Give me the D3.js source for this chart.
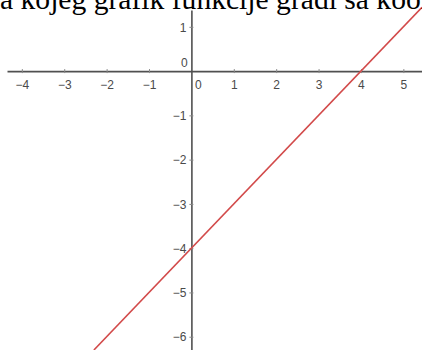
<!DOCTYPE html>
<html><head><meta charset="utf-8">
<script src="https://cdn.jsdelivr.net/npm/d3@7"></script>
<style>
html,body{margin:0;padding:0;background:#fff;overflow:hidden}
svg{display:block}
</style></head>
<body>
<script>
const headingText = "a kojeg grafik funkcije gradi sa koordinatnim osama";
const xTicks = [-4, -3, -2, -1, 1, 2, 3, 4, 5];
const yTicks = [1, -1, -2, -3, -4, -5, -6];
const xDomain = [-4.35, 5.44];
const yDomain = [1.38, -6.3];
const slope = 1, intercept = -4;   // y = x - 4

const W = 422, H = 350;
const svg = d3.select("body").append("svg").attr("width", W).attr("height", H);

const x = d3.scaleLinear().domain(xDomain).range([7, 422]);
const y = d3.scaleLinear().domain(yDomain).range([10, 350]);

const axisCol = "#505050", labelCol = "#4a4a4a";
const labFont = "12px 'Liberation Sans', Arial, sans-serif";
const fmt = d => d < 0 ? "\u2212" + Math.abs(d) : String(d);

// x axis
const gx = svg.append("g").attr("transform", `translate(0,${y(0)})`)
  .call(d3.axisBottom(x).tickValues(xTicks).tickSizeInner(2).tickSizeOuter(0).tickFormat(fmt));
gx.select(".domain").attr("stroke", axisCol).attr("stroke-width", 1.6);
gx.selectAll(".tick line").attr("y1", -2).attr("y2", 2).attr("stroke", "#888");
gx.selectAll(".tick text").attr("y", 18).attr("dy", 0)
  .attr("fill", labelCol).style("font", labFont);

// y axis
const gy = svg.append("g").attr("transform", `translate(${x(0)},0)`)
  .call(d3.axisLeft(y).tickValues(yTicks).tickSizeInner(2).tickSizeOuter(0).tickFormat(fmt));
gy.select(".domain").attr("stroke", axisCol).attr("stroke-width", 1.6);
gy.selectAll(".tick line").attr("x1", -2).attr("x2", 2).attr("stroke", "#888");
gy.selectAll(".tick text").attr("x", -5).attr("dy", "0.35em")
  .attr("fill", labelCol).style("font", labFont);

// zero labels
svg.append("text").attr("x", x(0) - 7).attr("y", y(0) - 4).attr("text-anchor", "middle")
  .attr("fill", labelCol).style("font", labFont).text("0");
svg.append("text").attr("x", x(0) + 7).attr("y", y(0) + 18).attr("text-anchor", "middle")
  .attr("fill", labelCol).style("font", labFont).text("0");

// function line
const f = v => slope * v + intercept;
const xs = [(yDomain[1] - intercept) / slope, xDomain[1]];
svg.append("path")
  .datum(xs.map(v => [v, f(v)]))
  .attr("d", d3.line().x(d => x(d[0])).y(d => y(d[1])))
  .attr("fill", "none").attr("stroke", "#d24a4a").attr("stroke-width", 1.6);

// heading text (clipped at top, as in the source)
svg.append("text").attr("x", 0).attr("y", 9)
  .attr("fill", "#000").style("font", "29.6px 'Liberation Serif', 'Times New Roman', serif")
  .text(headingText);
</script>
</body></html>
